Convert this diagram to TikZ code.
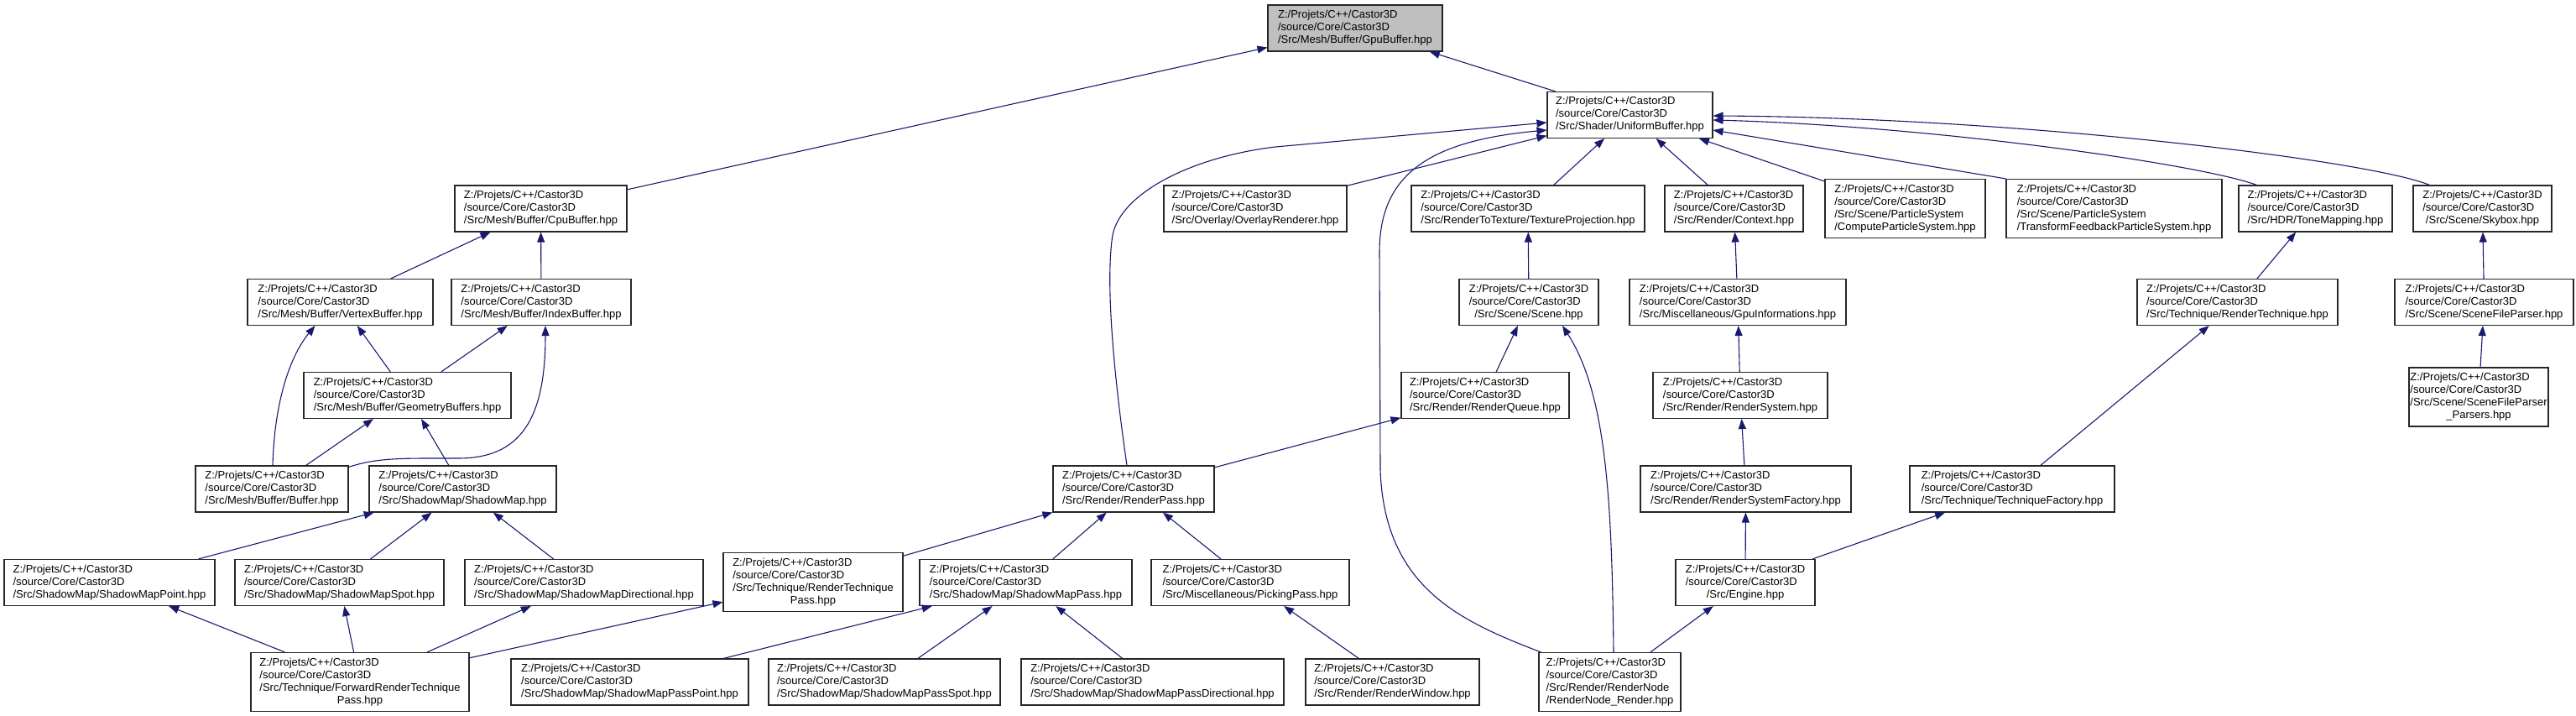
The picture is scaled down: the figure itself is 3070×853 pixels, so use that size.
\documentclass[tikz,border=0pt]{standalone}
\usepackage{fontspec}
\setmainfont{Liberation Sans}
\usepackage{xcolor}
\usepackage{tikz}
\usetikzlibrary{arrows.meta}
\definecolor{edgeblue}{HTML}{191970}
\definecolor{gpugray}{HTML}{BFBFBF}
\newcommand{\fp}[2]{\begin{tabular}{@{}l@{}}Z:/Projets/C++/Castor3D\\/source/Core/Castor3D#1\\\multicolumn{1}{@{}c@{}}{#2}\end{tabular}}

\begin{document}
\begin{tikzpicture}[x=1pt,y=-1pt,>={Triangle[length=12pt,width=9pt]},
  box/.style={draw=black!85,line width=1.1pt,fill=white,inner xsep=0pt,inner ysep=5pt,font=\fontsize{13}{15}\selectfont},
  wd/.style={minimum width=#1pt},
  edge/.style={->,draw=edgeblue,line width=1.1pt,fill=none}]
\useasboundingbox (0,0) rectangle (3070,853);
\node[box,wd=208,fill=gpugray] (gpu) at (1615,33.5) {\fp{}{/Src/Mesh/Buffer/GpuBuffer.hpp}};
\node[box,wd=197] (ubo) at (1942.5,137) {\fp{}{/Src/Shader/UniformBuffer.hpp}};
\node[box,wd=205] (cpu) at (644.5,248.5) {\fp{}{/Src/Mesh/Buffer/CpuBuffer.hpp}};
\node[box,wd=218] (ovl) at (1496,248.5) {\fp{}{/Src/Overlay/OverlayRenderer.hpp}};
\node[box,wd=278] (tex) at (1821,248.5) {\fp{}{/Src/RenderToTexture/TextureProjection.hpp}};
\node[box,wd=165] (ctx) at (2066.5,248.5) {\fp{}{/Src/Render/Context.hpp}};
\node[box,wd=191] (cps) at (2270.5,248.5) {\fp{\\/Src/Scene/ParticleSystem}{/ComputeParticleSystem.hpp}};
\node[box,wd=257] (tfps) at (2519.5,248.5) {\fp{\\/Src/Scene/ParticleSystem}{/TransformFeedbackParticleSystem.hpp}};
\node[box,wd=183] (tone) at (2759.5,248.5) {\fp{}{/Src/HDR/ToneMapping.hpp}};
\node[box,wd=165] (sky) at (2958.5,248.5) {\fp{}{/Src/Scene/Skybox.hpp}};
\node[box,wd=221] (vtx) at (405.5,360) {\fp{}{/Src/Mesh/Buffer/VertexBuffer.hpp}};
\node[box,wd=214] (idx) at (645,360) {\fp{}{/Src/Mesh/Buffer/IndexBuffer.hpp}};
\node[box,wd=166] (scene) at (1822,360) {\fp{}{/Src/Scene/Scene.hpp}};
\node[box,wd=258] (gpuinfo) at (2071,360) {\fp{}{/Src/Miscellaneous/GpuInformations.hpp}};
\node[box,wd=239] (rtech) at (2666.5,360) {\fp{}{/Src/Technique/RenderTechnique.hpp}};
\node[box,wd=213] (sfp) at (2960.5,360) {\fp{}{/Src/Scene/SceneFileParser.hpp}};
\node[box,wd=247] (geom) at (485.5,471) {\fp{}{/Src/Mesh/Buffer/GeometryBuffers.hpp}};
\node[box,wd=200] (rqueue) at (1770,471) {\fp{}{/Src/Render/RenderQueue.hpp}};
\node[box,wd=208] (rsys) at (2074,471) {\fp{}{/Src/Render/RenderSystem.hpp}};
\node[box,wd=166] (parsers) at (2954,473) {\fp{\\/Src/Scene/SceneFileParser}{\_Parsers.hpp}};
\node[box,wd=182] (buf) at (324,582.5) {\fp{}{/Src/Mesh/Buffer/Buffer.hpp}};
\node[box,wd=223] (smap) at (551.5,582.5) {\fp{}{/Src/ShadowMap/ShadowMap.hpp}};
\node[box,wd=192] (rpass) at (1351,582.5) {\fp{}{/Src/Render/RenderPass.hpp}};
\node[box,wd=251] (rsf) at (2080.5,582.5) {\fp{}{/Src/Render/RenderSystemFactory.hpp}};
\node[box,wd=244] (tfac) at (2398,582.5) {\fp{}{/Src/Technique/TechniqueFactory.hpp}};
\node[box,wd=251] (smpt) at (130.5,694) {\fp{}{/Src/ShadowMap/ShadowMapPoint.hpp}};
\node[box,wd=249] (smspot) at (404.5,694) {\fp{}{/Src/ShadowMap/ShadowMapSpot.hpp}};
\node[box,wd=284] (smdir) at (696,694) {\fp{}{/Src/ShadowMap/ShadowMapDirectional.hpp}};
\node[box,wd=214] (rtp) at (969,693.5) {\fp{\\/Src/Technique/RenderTechnique}{Pass.hpp}};
\node[box,wd=253] (smpass) at (1222.5,694) {\fp{}{/Src/ShadowMap/ShadowMapPass.hpp}};
\node[box,wd=236] (pick) at (1490,694) {\fp{}{/Src/Miscellaneous/PickingPass.hpp}};
\node[box,wd=166] (eng) at (2080,694) {\fp{}{/Src/Engine.hpp}};
\node[box,wd=260] (fwd) at (429,812.5) {\fp{\\/Src/Technique/ForwardRenderTechnique}{Pass.hpp}};
\node[box,wd=283] (smpp) at (750.5,812.5) {\fp{}{/Src/ShadowMap/ShadowMapPassPoint.hpp}};
\node[box,wd=276] (smps) at (1054,812.5) {\fp{}{/Src/ShadowMap/ShadowMapPassSpot.hpp}};
\node[box,wd=313] (smpd) at (1373.5,812.5) {\fp{}{/Src/ShadowMap/ShadowMapPassDirectional.hpp}};
\node[box,wd=207] (rwin) at (1659.5,812.5) {\fp{}{/Src/Render/RenderWindow.hpp}};
\node[box,wd=169] (rnode) at (1918.5,812.5) {\fp{\\/Src/Render/RenderNode}{/RenderNode\_Render.hpp}};
\draw[edge] (ubo)--(gpu); \draw[edge] (cpu)--(gpu); \draw[edge] (vtx)--(cpu); \draw[edge] (idx)--(cpu);
\draw[edge] (geom)--(vtx); \draw[edge] (geom)--(idx); \draw[edge] (buf)--(geom); \draw[edge] (smap)--(geom);
\draw[edge] ([xshift=1pt]buf.north) .. controls (327,480) and (345,425) .. ([xshift=-30pt]vtx.south);
\draw[edge] ([yshift=-2pt]buf.north east) .. controls (450,545) and (480,546) .. (546,546) .. controls (620,546) and (650,500) .. ([xshift=5pt]idx.south);
\draw[edge] (smpt)--(smap); \draw[edge] (smspot)--(smap); \draw[edge] (smdir)--(smap);
\draw[edge] (fwd)--(smpt); \draw[edge] (fwd)--(smspot); \draw[edge] (fwd)--(smdir); \draw[edge] (fwd)--(rtp);
\draw[edge] (rtp)--(rpass); \draw[edge] (smpass)--(rpass); \draw[edge] (pick)--(rpass);
\draw[edge] (smpp)--(smpass); \draw[edge] (smps)--(smpass); \draw[edge] (smpd)--(smpass); \draw[edge] (rwin)--(pick);
\draw[edge] ([xshift=-8pt]rpass.north) .. controls (1325,430) and (1318,330) .. (1326,280) .. controls (1336,230) and (1420,187) .. (1520,175) -- ([yshift=-9pt]ubo.west);
\draw[edge] ([xshift=3pt]rnode.north west) .. controls (1740,740) and (1650,700) .. (1645,560) -- (1644,300) .. controls (1644,210) and (1700,168) .. ([yshift=-18pt]ubo.west);
\draw[edge] (ovl)--(ubo); \draw[edge] (tex)--(ubo); \draw[edge] (ctx)--(ubo); \draw[edge] (cps)--(ubo);
\draw[edge] (tfps.north west)--([yshift=-18pt]ubo.east);
\draw[edge] ([xshift=-70pt]tone.north) .. controls (2620,195) and (2300,150) .. ([yshift=-6pt]ubo.east);
\draw[edge] ([xshift=-63pt]sky.north) .. controls (2820,190) and (2400,140) .. ([yshift=-1pt]ubo.east);
\draw[edge] (scene)--(tex); \draw[edge] (rqueue)--(scene); \draw[edge] (rpass)--(rqueue);
\draw[edge] ([xshift=4.5pt]rnode.north) .. controls (1921,600) and (1915,470) .. ([xshift=40pt]scene.south);
\draw[edge] (gpuinfo)--(ctx); \draw[edge] (rsys)--(gpuinfo); \draw[edge] (rsf)--(rsys); \draw[edge] (eng)--(rsf);
\draw[edge] (eng)--(tfac); \draw[edge] (rnode)--(eng); \draw[edge] (tfac)--(rtech); \draw[edge] (rtech)--(tone);
\draw[edge] (sfp)--(sky); \draw[edge] (parsers)--(sfp);
\end{tikzpicture}
\end{document}
